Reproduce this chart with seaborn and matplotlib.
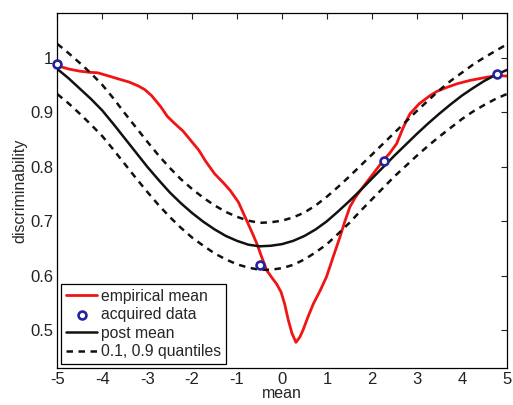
import numpy as np
import pandas as pd
import seaborn as sns
import matplotlib
matplotlib.use("Agg")
import matplotlib.pyplot as plt

# empirical mean (red)
emp_x = [-5.0, -4.75, -4.5, -4.3, -4.1, -3.85, -3.65, -3.4, -3.2, -3.05, -2.9,
         -2.7, -2.55, -2.4, -2.2, -2.05, -1.85, -1.7, -1.5, -1.3, -1.15,
         -0.97, -0.79, -0.67, -0.56, -0.45, -0.34, -0.22, -0.12, -0.02, 0.06,
         0.14, 0.22, 0.31, 0.40, 0.47, 0.58, 0.70, 0.85, 0.99, 1.14, 1.29,
         1.40, 1.51, 1.62, 1.74, 1.88, 2.03, 2.25, 2.40, 2.55, 2.63, 2.70,
         2.78, 2.85, 3.05, 3.29, 3.45, 3.66, 3.90, 4.18, 4.50, 4.78, 5.0]
emp_y = [0.985, 0.979, 0.975, 0.973, 0.972, 0.966, 0.961, 0.955, 0.948, 0.941,
         0.930, 0.910, 0.892, 0.880, 0.865, 0.850, 0.830, 0.810, 0.787, 0.770,
         0.756, 0.735, 0.702, 0.680, 0.659, 0.634, 0.610, 0.596, 0.585, 0.570,
         0.548, 0.519, 0.495, 0.478, 0.488, 0.501, 0.525, 0.549, 0.573, 0.598,
         0.635, 0.671, 0.700, 0.726, 0.742, 0.756, 0.771, 0.787, 0.811, 0.825,
         0.842, 0.858, 0.872, 0.886, 0.897, 0.915, 0.930, 0.938, 0.945, 0.952,
         0.958, 0.963, 0.967, 0.966]

# acquired data points
acq_x = [-5.0, -0.50, 2.27, 4.78]
acq_y = [0.989, 0.619, 0.810, 0.970]

# posterior mean and 0.1 / 0.9 quantiles
grid_x = [-5.0, -4.75, -4.5, -4.25, -4.0, -3.75, -3.5, -3.25, -3.0, -2.75,
          -2.5, -2.25, -2.0, -1.75, -1.5, -1.25, -1.0, -0.75, -0.5, -0.25,
          0.0, 0.25, 0.5, 0.75, 1.0, 1.25, 1.5, 1.75, 2.0, 2.25, 2.5, 2.75,
          3.0, 3.25, 3.5, 3.75, 4.0, 4.25, 4.5, 4.75, 5.0]
post_mean = [0.979, 0.962, 0.943, 0.924, 0.903, 0.878, 0.852, 0.826, 0.800,
             0.776, 0.753, 0.733, 0.715, 0.699, 0.685, 0.673, 0.664, 0.657,
             0.654, 0.655, 0.658, 0.664, 0.673, 0.685, 0.700, 0.718, 0.737,
             0.757, 0.778, 0.799, 0.820, 0.840, 0.860, 0.879, 0.897, 0.914,
             0.930, 0.944, 0.957, 0.968, 0.977]
q_upper = [1.025, 1.008, 0.990, 0.971, 0.950, 0.925, 0.898, 0.872, 0.846,
           0.821, 0.798, 0.777, 0.759, 0.743, 0.729, 0.717, 0.708, 0.701,
           0.697, 0.698, 0.701, 0.707, 0.716, 0.729, 0.745, 0.763, 0.782,
           0.802, 0.822, 0.842, 0.862, 0.882, 0.902, 0.921, 0.940, 0.957,
           0.972, 0.987, 1.000, 1.012, 1.024]
q_lower = [0.933, 0.916, 0.897, 0.877, 0.856, 0.831, 0.805, 0.779, 0.754,
           0.730, 0.708, 0.688, 0.670, 0.655, 0.641, 0.630, 0.621, 0.615,
           0.611, 0.611, 0.614, 0.620, 0.630, 0.643, 0.658, 0.677, 0.697,
           0.719, 0.740, 0.761, 0.782, 0.801, 0.820, 0.838, 0.855, 0.871,
           0.887, 0.901, 0.913, 0.924, 0.933]

x_ticks = [-5, -4, -3, -2, -1, 0, 1, 2, 3, 4, 5]
y_ticks = [0.5, 0.6, 0.7, 0.8, 0.9, 1.0]
y_ticklabels = ["0.5", "0.6", "0.7", "0.8", "0.9", "1"]

sns.set_style("white")
plt.rcParams["font.family"] = ["Liberation Sans", "DejaVu Sans"]
plt.rcParams["axes.unicode_minus"] = False

fig = plt.figure(figsize=(5.13, 4.05), dpi=100)
ax = fig.add_axes([0.1117, 0.0914, 0.876, 0.8757])

red = "#f01414"
blue = "#23239b"
dash = (0, (2.6, 2.2))

sns.lineplot(x=emp_x, y=emp_y, ax=ax, color=red, lw=2.0,
             label="empirical mean", sort=False)
sns.lineplot(x=grid_x, y=post_mean, ax=ax, color="#111111", lw=1.8,
             label="post mean")
sns.lineplot(x=grid_x, y=q_upper, ax=ax, color="#111111", lw=1.8,
             linestyle=dash, label="0.1, 0.9 quantiles")
sns.lineplot(x=grid_x, y=q_lower, ax=ax, color="#111111", lw=1.8,
             linestyle=dash)
sns.scatterplot(x=acq_x, y=acq_y, ax=ax, marker="o", s=32,
                facecolor="white", edgecolor=blue, linewidth=1.9,
                label="acquired data", zorder=5, clip_on=False)

ax.set_xlim(-5, 5)
ax.set_ylim(0.431, 1.081)
ax.set_xticks(x_ticks)
ax.set_xticklabels([str(t) for t in x_ticks])
ax.set_yticks(y_ticks)
ax.set_yticklabels(y_ticklabels)
ax.tick_params(direction="in", length=4, width=0.8, top=True, right=True,
               labelsize=12, colors="#222222", pad=3)
for s in ax.spines.values():
    s.set_visible(True)
    s.set_color("black")
    s.set_linewidth(0.9)

ax.set_xlabel("mean", fontsize=11.5, labelpad=-1)
ax.set_ylabel("discriminability", fontsize=11.5, labelpad=2)

handles, labels = ax.get_legend_handles_labels()
order = ["empirical mean", "acquired data", "post mean", "0.1, 0.9 quantiles"]
hmap = dict(zip(labels, handles))
leg = ax.legend([hmap[k] for k in order], order, loc="lower left",
                fontsize=11.3, frameon=True, fancybox=False, framealpha=1,
                edgecolor="black", handlelength=2.0, handletextpad=0.25,
                labelspacing=0.22, borderpad=0.3, borderaxespad=0.25)
leg.get_frame().set_linewidth(0.9)

fig.savefig("out.png", dpi=100)
